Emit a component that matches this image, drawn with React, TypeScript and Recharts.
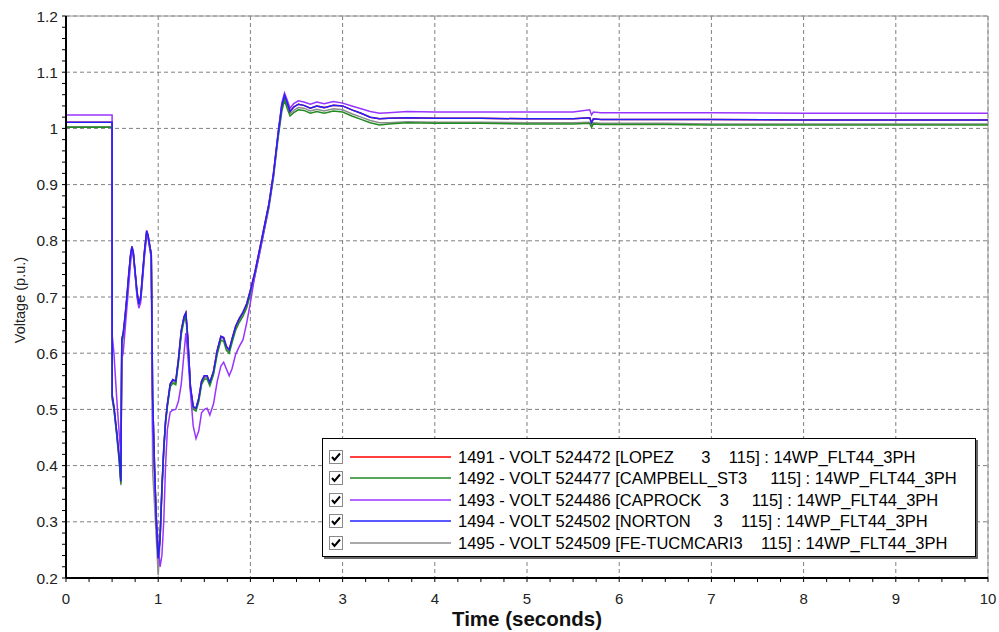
import { LineChart, Line, XAxis, YAxis, CartesianGrid, Legend, Label, ReferenceLine } from "recharts"

const FONT = "'Liberation Sans', Arial, sans-serif"

// simulation time (s)
const time = [
  0, 0.5, 0.501, 0.52, 0.55, 0.58, 0.595, 0.605, 0.62, 0.64,
  0.66, 0.68, 0.7, 0.715, 0.73, 0.75, 0.77, 0.79, 0.81, 0.83,
  0.85, 0.875, 0.89, 0.91, 0.925, 0.94, 0.96, 0.98, 1.0, 1.02,
  1.04, 1.06, 1.08, 1.1, 1.13, 1.16, 1.19, 1.22, 1.25, 1.28,
  1.3, 1.32, 1.35, 1.38, 1.41, 1.44, 1.47, 1.5, 1.53, 1.56,
  1.6, 1.64, 1.68, 1.71, 1.74, 1.77, 1.8, 1.84, 1.88, 1.92,
  1.96, 2.0, 2.05, 2.1, 2.15, 2.2, 2.25, 2.3, 2.34, 2.37,
  2.4, 2.43, 2.47, 2.52, 2.58, 2.65, 2.72, 2.8, 2.9, 3.0,
  3.1, 3.2, 3.3, 3.4, 3.5, 3.7, 4.0, 4.5, 5.0, 5.5,
  5.68, 5.7, 5.72, 5.8, 6.0, 6.5, 7.0, 8.0, 9.0, 10.0,
]

const lopez = [
  1.011, 1.011, 0.525, 0.505, 0.46, 0.41, 0.372, 0.625, 0.635, 0.665,
  0.7, 0.74, 0.775, 0.79, 0.78, 0.745, 0.71, 0.688, 0.7, 0.74,
  0.78, 0.818, 0.81, 0.79, 0.775, 0.52, 0.4, 0.3, 0.235, 0.27,
  0.36, 0.43, 0.48, 0.51, 0.545, 0.553, 0.55, 0.59, 0.64, 0.665,
  0.672, 0.63, 0.54, 0.505, 0.502, 0.52, 0.55, 0.56, 0.56, 0.548,
  0.568, 0.605, 0.63, 0.628, 0.612, 0.606, 0.625, 0.648, 0.662, 0.673,
  0.688, 0.712, 0.745, 0.785, 0.825, 0.865, 0.92, 0.99, 1.04, 1.059,
  1.045, 1.03, 1.038, 1.043, 1.041, 1.036, 1.04, 1.037, 1.041, 1.04,
  1.033, 1.027, 1.02, 1.017, 1.018, 1.019, 1.018, 1.018, 1.017, 1.017,
  1.019, 1.01, 1.017, 1.016, 1.016, 1.016, 1.016, 1.015, 1.015, 1.015,
]

const campbell = [
  1.002, 1.002, 0.52, 0.5, 0.455, 0.405, 0.368, 0.62, 0.63, 0.66,
  0.695, 0.735, 0.77, 0.785, 0.775, 0.74, 0.705, 0.684, 0.695, 0.735,
  0.775, 0.812, 0.805, 0.785, 0.77, 0.52, 0.4, 0.3, 0.235, 0.27,
  0.355, 0.425, 0.475, 0.505, 0.54, 0.547, 0.544, 0.583, 0.633, 0.658,
  0.665, 0.624, 0.535, 0.5, 0.497, 0.514, 0.544, 0.554, 0.554, 0.542,
  0.562, 0.598, 0.623, 0.621, 0.605, 0.6, 0.618, 0.641, 0.655, 0.666,
  0.681, 0.705, 0.738, 0.778, 0.818, 0.858, 0.912, 0.982, 1.03, 1.05,
  1.035, 1.022, 1.028, 1.033, 1.032, 1.027, 1.03, 1.027, 1.031, 1.029,
  1.022, 1.016, 1.01, 1.006, 1.008, 1.01, 1.009, 1.009, 1.008, 1.008,
  1.009, 1.002, 1.008, 1.007, 1.007, 1.007, 1.006, 1.006, 1.006, 1.006,
]

const caprock = [
  1.024, 1.024, 0.632, 0.6, 0.52, 0.45, 0.42, 0.59, 0.6, 0.64,
  0.68, 0.72, 0.76, 0.785, 0.775, 0.74, 0.7, 0.68, 0.69, 0.73,
  0.77, 0.812, 0.805, 0.785, 0.77, 0.46, 0.38, 0.31, 0.26, 0.22,
  0.24, 0.3, 0.4, 0.465, 0.495, 0.499, 0.5, 0.515, 0.545, 0.6,
  0.636, 0.6, 0.53, 0.47, 0.448, 0.462, 0.494, 0.5, 0.502, 0.49,
  0.51, 0.55, 0.577, 0.584, 0.572, 0.56, 0.572, 0.598, 0.612, 0.624,
  0.654, 0.69, 0.74, 0.778, 0.82, 0.862, 0.915, 0.99, 1.045, 1.063,
  1.05, 1.036, 1.044, 1.049, 1.047, 1.043, 1.047, 1.044, 1.048, 1.045,
  1.04, 1.035, 1.03, 1.027, 1.028, 1.03, 1.029, 1.029, 1.029, 1.029,
  1.033, 1.024, 1.029, 1.028, 1.028, 1.028, 1.028, 1.027, 1.027, 1.027,
]

const norton = [
  1.011, 1.011, 0.525, 0.505, 0.46, 0.41, 0.372, 0.625, 0.635, 0.665,
  0.7, 0.74, 0.775, 0.79, 0.78, 0.745, 0.71, 0.688, 0.7, 0.74,
  0.78, 0.818, 0.81, 0.79, 0.775, 0.52, 0.4, 0.3, 0.235, 0.27,
  0.36, 0.43, 0.48, 0.51, 0.545, 0.553, 0.55, 0.59, 0.64, 0.665,
  0.672, 0.63, 0.54, 0.505, 0.502, 0.52, 0.55, 0.56, 0.56, 0.548,
  0.568, 0.605, 0.63, 0.628, 0.612, 0.606, 0.625, 0.648, 0.662, 0.673,
  0.688, 0.712, 0.745, 0.785, 0.825, 0.865, 0.92, 0.99, 1.04, 1.059,
  1.045, 1.03, 1.038, 1.043, 1.041, 1.036, 1.04, 1.037, 1.041, 1.04,
  1.033, 1.027, 1.02, 1.017, 1.018, 1.019, 1.018, 1.018, 1.017, 1.017,
  1.019, 1.01, 1.017, 1.016, 1.016, 1.016, 1.016, 1.015, 1.015, 1.015,
]

const tucumcari = [
  1.003, 1.003, 0.518, 0.5, 0.455, 0.4, 0.365, 0.611, 0.63, 0.66,
  0.695, 0.735, 0.772, 0.788, 0.778, 0.742, 0.706, 0.686, 0.697, 0.737,
  0.777, 0.815, 0.808, 0.788, 0.78, 0.39, 0.33, 0.27, 0.205, 0.265,
  0.35, 0.425, 0.478, 0.508, 0.543, 0.55, 0.547, 0.587, 0.637, 0.662,
  0.669, 0.628, 0.538, 0.503, 0.5, 0.517, 0.547, 0.557, 0.557, 0.545,
  0.565, 0.602, 0.627, 0.625, 0.609, 0.603, 0.622, 0.645, 0.659, 0.67,
  0.685, 0.709, 0.742, 0.782, 0.822, 0.862, 0.916, 0.986, 1.034, 1.054,
  1.039, 1.026, 1.032, 1.037, 1.036, 1.031, 1.034, 1.031, 1.035, 1.033,
  1.026, 1.02, 1.014, 1.01, 1.01, 1.012, 1.011, 1.011, 1.01, 1.01,
  1.011, 1.004, 1.01, 1.009, 1.009, 1.009, 1.008, 1.008, 1.008, 1.008,
]

const seriesKeys = ["lopez", "campbell", "caprock", "norton", "tucumcari"]
const seriesColors = ["#ff0000", "#228b22", "#9933ff", "#2222ff", "#8c8c8c"]
const seriesLabels = [
  "1491 - VOLT 524472 [LOPEZ      3    115] : 14WP_FLT44_3PH",
  "1492 - VOLT 524477 [CAMPBELL_ST3     115] : 14WP_FLT44_3PH",
  "1493 - VOLT 524486 [CAPROCK    3     115] : 14WP_FLT44_3PH",
  "1494 - VOLT 524502 [NORTON     3    115] : 14WP_FLT44_3PH",
  "1495 - VOLT 524509 [FE-TUCMCARI3    115] : 14WP_FLT44_3PH",
]
// draw order (gray under everything, blue on top)
const drawOrder = ["tucumcari", "lopez", "campbell", "caprock", "norton"]

const xTicks = [0, 1, 2, 3, 4, 5, 6, 7, 8, 9, 10]
const yTicks = [0.2, 0.3, 0.4, 0.5, 0.6, 0.7, 0.8, 0.9, 1.0, 1.1, 1.2]
// small tick marks: every 0.25 s and every 0.02 p.u.
const xMinor = Array.from({ length: 41 }, (_, i) => i * 0.25)
const yMinor = Array.from({ length: 51 }, (_, i) => Number((0.2 + i * 0.02).toFixed(2)))

const data = time.map((t, i) => ({
  t,
  lopez: lopez[i],
  campbell: campbell[i],
  caprock: caprock[i],
  norton: norton[i],
  tucumcari: tucumcari[i],
}))

const isMajor = (v: number, step: number) => Math.abs(v / step - Math.round(v / step)) < 1e-6

function CheckBox() {
  return (
    <svg width={14} height={14} style={{ flex: "none" }}>
      <rect x={0.5} y={0.5} width={13} height={13} fill="#fff" stroke="#8a8a8a" />
      <path d="M3 7 L5.5 10 L11 3.5" fill="none" stroke="#000" strokeWidth={2} />
    </svg>
  )
}

function LegendBox() {
  return (
    <div
      style={{
        width: 654,
        height: 119,
        boxSizing: "border-box",
        background: "#fff",
        border: "1px solid #000",
        boxShadow: "2px 2px 0 #666",
        paddingTop: 7,
        paddingLeft: 6,
        fontFamily: FONT,
        fontSize: 16.5,
        color: "#000",
      }}
    >
      {seriesLabels.map((label, i) => (
        <div key={label} style={{ display: "flex", alignItems: "center", height: 21.5, whiteSpace: "pre" }}>
          <CheckBox />
          <svg width={101} height={4} style={{ marginLeft: 7, flex: "none" }}>
            <line x1={0} y1={2} x2={101} y2={2} stroke={seriesColors[i]} strokeWidth={1.5} />
          </svg>
          <span style={{ marginLeft: 7, lineHeight: "18px" }}>{label}</span>
        </div>
      ))}
    </div>
  )
}

export default function App() {
  return (
    <div style={{ position: "absolute", left: 0, top: 0, background: "#fff" }}>
      <LineChart width={999} height={632} data={data} margin={{ top: 16, right: 11, bottom: 0, left: 0 }}>
        <CartesianGrid stroke="#808080" strokeDasharray="4 3" verticalValues={xTicks} horizontalValues={yTicks} />
        <XAxis
          dataKey="t"
          type="number"
          domain={[0, 10]}
          ticks={xMinor}
          interval={0}
          height={54}
          tickSize={4}
          tickMargin={11}
          tickLine={{ stroke: "#000" }}
          axisLine={{ stroke: "#000", strokeWidth: 2 }}
          tick={{ fontSize: 15, fill: "#222", fontFamily: FONT }}
          tickFormatter={(v: number) => (isMajor(v, 1) ? String(Math.round(v)) : "")}
          allowDataOverflow
        >
          <Label
            content={() => (
              <text x={527} y={626} textAnchor="middle" fontFamily={FONT} fontWeight="bold" fontSize={20.5} fill="#111">
                Time (seconds)
              </text>
            )}
          />
        </XAxis>
        <YAxis
          type="number"
          domain={[0.2, 1.2]}
          ticks={yMinor}
          interval={0}
          width={66}
          tickSize={4}
          tickMargin={4}
          tickLine={{ stroke: "#000" }}
          axisLine={{ stroke: "#000", strokeWidth: 2 }}
          tick={{ fontSize: 15.5, fill: "#222", fontFamily: FONT }}
          tickFormatter={(v: number) => (isMajor(v, 0.1) ? String(Number(v.toFixed(1))) : "")}
          allowDataOverflow
        >
          <Label
            content={() => (
              <text
                x={20}
                y={300}
                transform="rotate(-90 20 300)"
                textAnchor="middle"
                dominantBaseline="central"
                fontFamily={FONT}
                fontSize={14.5}
                fill="#222"
              >
                Voltage (p.u.)
              </text>
            )}
          />
        </YAxis>
        <ReferenceLine y={1.2} stroke="#9a9a9a" />
        <ReferenceLine x={10} stroke="#9a9a9a" />
        {drawOrder.map((key) => (
          <Line
            key={key}
            type="linear"
            dataKey={key}
            stroke={seriesColors[seriesKeys.indexOf(key)]}
            strokeWidth={1.5}
            dot={false}
            isAnimationActive={false}
          />
        ))}
        <Legend
          layout="vertical"
          align="center"
          verticalAlign="middle"
          content={() => <LegendBox />}
          wrapperStyle={{ left: 322, top: 438, width: 654, height: 119 }}
        />
      </LineChart>
    </div>
  )
}
